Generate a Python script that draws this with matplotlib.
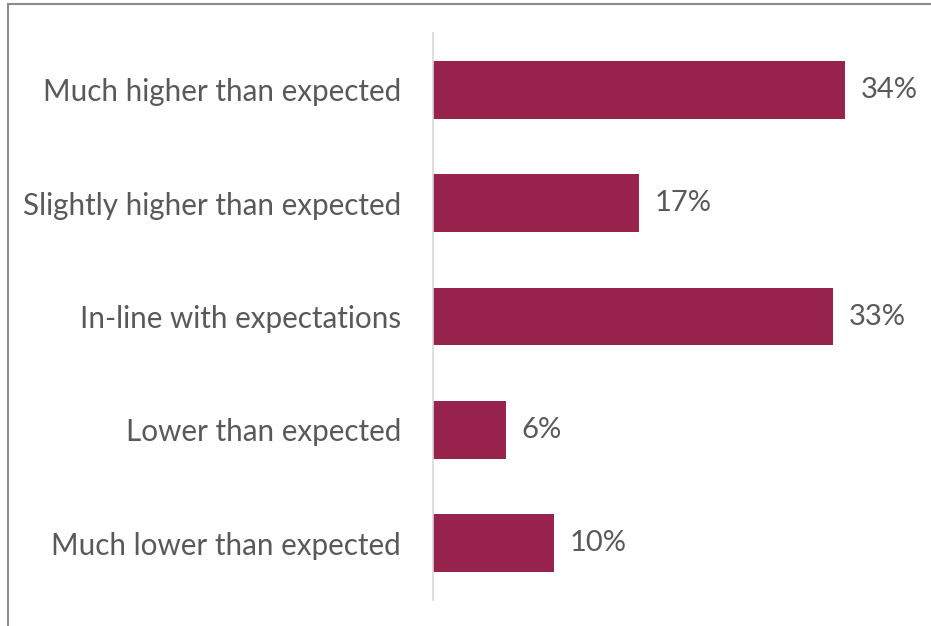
import matplotlib.pyplot as plt
from matplotlib.lines import Line2D

categories = ["Much higher than expected", "Slightly higher than expected",
              "In-line with expectations", "Lower than expected",
              "Much lower than expected"]
values = [34, 17, 33, 6, 10]

bar_color = "#98234D"
text_color = "#595959"

plt.rcParams['font.family'] = ['Lato', 'DejaVu Sans']

fig = plt.figure(figsize=(9.31, 6.26), dpi=100)
ax = fig.add_axes([433 / 931, 1 - 600 / 626, (918 - 433) / 931, (600 - 33) / 626])

y = list(range(len(categories)))
ax.barh(y, values, height=0.51, color=bar_color)
ax.set_ylim(len(categories) - 0.5, -0.5)
ax.set_xlim(0, 40)

ax.set_yticks(y)
ax.set_yticklabels(categories, fontsize=21.3, color=text_color)
ax.tick_params(axis='y', length=0, pad=23)
ax.set_xticks([])

for s in ["top", "right", "bottom"]:
    ax.spines[s].set_visible(False)
ax.spines["left"].set_color("#D9D9D9")
ax.spines["left"].set_linewidth(1.2)

for yi, v in zip(y, values):
    ax.text(v + 1.3, yi, f"{v}%", va='center', ha='left', fontsize=21, color=text_color)

# outer frame: only left and top edges show
fig.add_artist(Line2D([8 / 931, 8 / 931], [0, 1 - 4 / 626], transform=fig.transFigure,
                      color="#8C8C8C", lw=1.5))
fig.add_artist(Line2D([8 / 931, 1], [1 - 4 / 626, 1 - 4 / 626], transform=fig.transFigure,
                      color="#8C8C8C", lw=1.5))

fig.savefig("out.png", dpi=100)
